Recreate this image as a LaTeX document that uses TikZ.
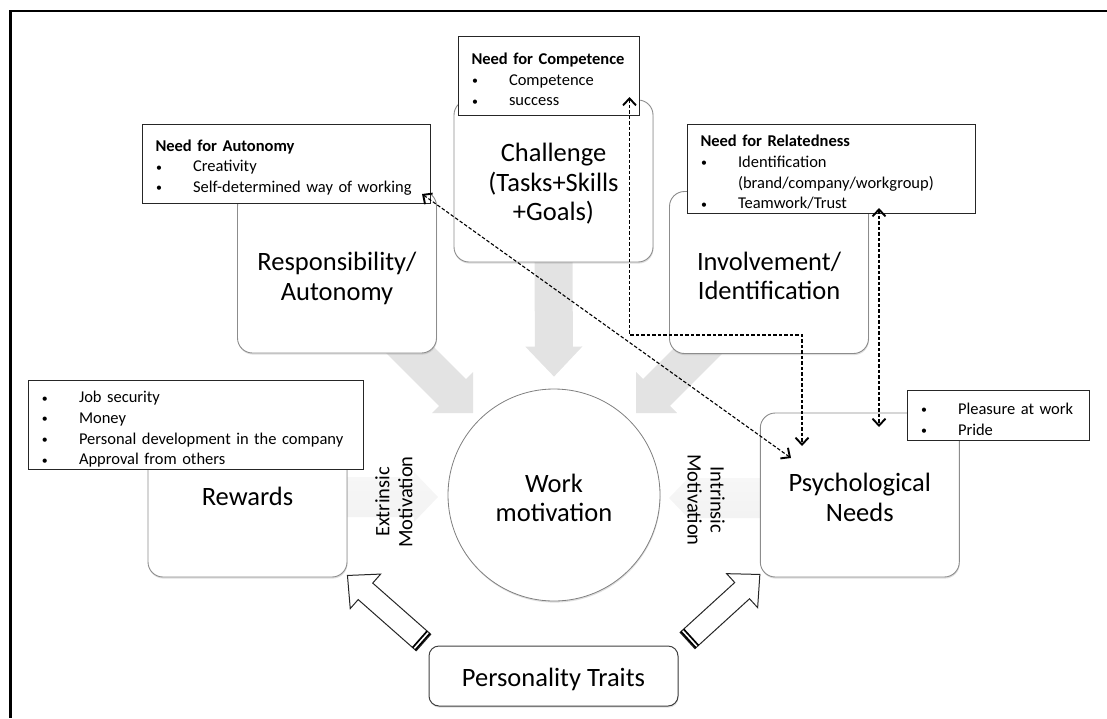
\documentclass[tikz,border=0pt]{standalone}
\usepackage{fontspec}
\usepackage{graphicx}
\setmainfont{Carlito}
\usetikzlibrary{arrows.meta,calc,shadows,backgrounds}
\newcommand\LblBig{\fontsize{26.5}{29.5}\selectfont}
\newcommand\LblSmall{\fontsize{16.5}{20.7}\selectfont}
\newcommand\LblRot{\fontsize{20.5}{23}\selectfont}
\newcommand\bul{\makebox[37.5pt][l]{\hspace{0.5pt}\raisebox{0.6pt}{\scalebox{0.72}{•}}}}
\newcommand\itemgap{\makebox[37.5pt][l]{}}
\newcommand\topstrut{\rule{0pt}{18.5pt}}
% block arrow: #1 tail, #2 tip, #3 shaft half width, #4 head half width, #5 head length, #6 style
\newcommand\blockarrow[6]{%
  \coordinate (bh) at ($(#2)!#5pt!(#1)$);
  \path[#6] ($(#1)!#3pt!90:(#2)$) -- ($(bh)!#3pt!90:(#2)$) -- ($(bh)!#4pt!90:(#2)$) -- (#2)
    -- ($(bh)!#4pt!-90:(#2)$) -- ($(bh)!#3pt!-90:(#2)$) -- ($(#1)!#3pt!-90:(#2)$) -- cycle;
}
\newcommand\tailstripes[2]{%
  \coordinate (sa) at ($(#1)!1.2pt!(#2)$);
  \coordinate (sb) at ($(#1)!4.8pt!(#2)$);
  \draw[line width=1.7pt] ($(sa)!11pt!90:(#2)$) -- ($(sa)!11pt!-90:(#2)$);
  \draw[line width=1.7pt] ($(sb)!11pt!90:(#2)$) -- ($(sb)!11pt!-90:(#2)$);
}
\begin{document}
\begin{tikzpicture}[x=1pt,y=-1pt,
  softshadow/.style={drop shadow={shadow xshift=0.5pt, shadow yshift=-1.6pt, opacity=0.25}},
  bigbox/.style={draw=black!45, line width=0.9pt, rounded corners=15pt, fill=white,
    minimum width=199pt, minimum height=162pt, softshadow},
  bigtext/.style={align=center, font=\LblBig, inner sep=0pt},
  listbox/.style={draw=black!85, line width=1pt, fill=white, anchor=north west,
    inner xsep=13pt, inner ysep=0pt, align=left, font=\LblSmall},
  grayarr/.style={fill=gray!22},
  hgrayarr/.style={top color=gray!6, middle color=gray!28, bottom color=gray!10},
  whitearr/.style={draw=black!85, line width=1pt, fill=white},
  dasharr/.style={dash pattern=on 3.5pt off 2pt, line width=1.1pt,
    {Straight Barb[length=7pt,width=13pt,line width=1.9pt]}-{Straight Barb[length=7pt,width=13pt,line width=1.9pt]}},
  rotlbl/.style={font=\LblRot, align=center}
]
\useasboundingbox (0,0) rectangle (1107,718);
\draw[line width=2.5pt] (1107,11) -- (10.5,11) -- (10.5,718);

% main boxes
\node[bigbox] (chal) at (553.5,181) {};
\node[bigtext] (chalT) at (553.5,184) {Challenge\\(Tasks+Skills\\+Goals)};
\node[bigbox] (resp) at (337,272) {};
\node[bigtext] (respT) at (337,278.5) {Responsibility/\\Autonomy};
\node[bigbox] (invo) at (769,272.5) {};
\node[bigtext] (invoT) at (769,276) {Involvement/\\Identification};
\node[bigbox, minimum height=164pt] (rew) at (247.5,495) {};
\node[bigtext] (rewT) at (247.5,496) {Rewards};
\node[bigbox, minimum height=164pt] (psy) at (859.8,495) {};
\node[bigtext] (psyT) at (859.8,497.5) {Psychological\\Needs};
\node[circle, draw=black!50, line width=0.8pt, fill=white, minimum size=212pt, inner sep=0pt,
  softshadow] (wm) at (554,495) {};
\node[bigtext] (wmT) at (554,498) {Work\\motivation};
\node[draw=black!75, line width=1pt, rounded corners=10pt, fill=white, minimum width=249pt,
  minimum height=60pt, softshadow] (pers) at (553.5,676) {};
\node[bigtext] (persT) at (553.5,679) {Personality Traits};

% list boxes
\node[listbox, text width=155pt, minimum height=79pt] (ncomp) at (458,36)
  {\topstrut\textbf{Need for Competence}\\\bul Competence\\\bul success};
\node[listbox, text width=262pt, minimum height=79pt] (naut) at (142,124)
  {\topstrut\textbf{Need for Autonomy}\\\bul Creativity\\\bul Self-determined way of working};
\node[listbox, text width=262pt, minimum height=89pt] (nrel) at (687,124)
  {\topstrut\textbf{Need for Relatedness}\\\bul Identification\\\itemgap(brand/company/workgroup)\\\bul Teamwork/Trust};
\node[listbox, text width=308.5pt, minimum height=89pt] (rewl) at (28,380)
  {\rule{0pt}{20pt}\bul Job security\\\bul Money\\\bul Personal development in the company\\\bul Approval from others};
\node[listbox, text width=156pt, minimum height=50pt] (plea) at (907,390)
  {\topstrut\bul Pleasure at work\\\bul Pride};

% rotated labels
\node[rotlbl, rotate=90] (ext) at (394,502) {Extrinsic\\Motivation};
\node[rotlbl, rotate=-90] (int) at (706,500) {Intrinsic\\Motivation};

% gray block arrows into the circle
\begin{scope}[on background layer]
  \coordinate (vT) at ($(chal.south)+(0,-12)$);
  \coordinate (vP) at ($(wm.north)+(0,-12)$);
  \blockarrow{vT}{vP}{19}{28.5}{30}{grayarr}
  \coordinate (lT) at (390,330);
  \coordinate (lP) at (473,413);
  \blockarrow{lT}{lP}{19}{29}{29}{grayarr}
  \coordinate (rT) at (719,330);
  \coordinate (rP) at (636,413);
  \blockarrow{rT}{rP}{19}{29}{29}{grayarr}
  \coordinate (eT) at ($(rew.east)+(-8,2)$);
  \coordinate (eP) at (438,497);
  \blockarrow{eT}{eP}{20}{25}{24}{hgrayarr}
  \coordinate (iT) at ($(psy.west)+(10,3)$);
  \coordinate (iP) at (669,498);
  \blockarrow{iT}{iP}{20}{25}{24}{hgrayarr}
\end{scope}

% white block arrows from Personality Traits
\coordinate (plT) at ($(pers.north west)+(-5,-3)$);
\coordinate (plP) at ($(rew.south east)+(0,-2)$);
\blockarrow{plT}{plP}{11}{23}{24}{whitearr}
\tailstripes{plT}{plP}
\coordinate (prT) at ($(pers.north east)+(9,-5)$);
\coordinate (prP) at ($(psy.south west)+(0,-3)$);
\blockarrow{prT}{prP}{11}{23}{24}{whitearr}
\tailstripes{prT}{prP}

% dashed links between needs and Psychological Needs
\coordinate (a1) at (422,194);
\coordinate (a2) at (791,458);
\draw[dasharr] (a1) -- (a2);
\coordinate (c1) at (629.5,97);
\coordinate (c2) at (802,446);
\draw[dasharr] (c1) -- ++(0,238) -| (c2);
\coordinate (r1) at (879,208);
\coordinate (r2) at (879,427);
\draw[dasharr] (r1) -- (r2);
\end{tikzpicture}
\end{document}
